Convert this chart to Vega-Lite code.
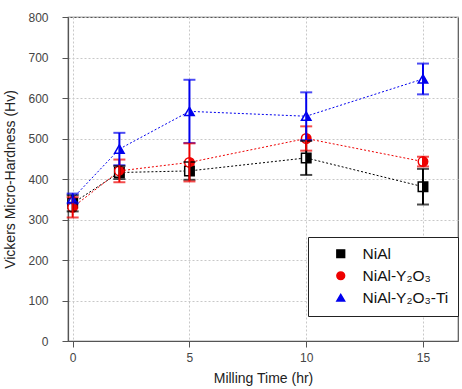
{
  "$schema": "https://vega.github.io/schema/vega-lite/v6.json",
  "width": 390,
  "height": 324,
  "autosize": "none",
  "padding": {"left": 68, "top": 17, "right": 4, "bottom": 48},
  "background": "white",
  "config": {
    "font": "Liberation Sans",
    "view": {"stroke": "#555", "strokeWidth": 1.2},
    "axis": {
      "domainColor": "#555",
      "domainWidth": 1.2,
      "tickColor": "#555",
      "tickSize": 6,
      "labelColor": "#444",
      "labelFontSize": 12,
      "titleColor": "#222",
      "titleFontSize": 14,
      "titleFontWeight": "normal",
      "gridColor": "#c8c8c8",
      "gridDash": [2, 2],
      "gridWidth": 1
    },
    "legend": {
      "orient": "none",
      "legendX": 240,
      "legendY": 220,
      "fillColor": "white",
      "strokeColor": "#222",
      "padding": 9,
      "labelFontSize": 15.5,
      "labelColor": "#111",
      "symbolSize": 60,
      "symbolStrokeWidth": 1.5,
      "symbolOffset": 16,
      "rowPadding": 5,
      "labelOffset": 14
    }
  },
  "data": {
    "values": [
      {"series": "NiAl", "time": 0, "hv": 340, "err": 20},
      {"series": "NiAl", "time": 2, "hv": 416, "err": 16},
      {"series": "NiAl", "time": 5, "hv": 420, "err": 22},
      {"series": "NiAl", "time": 10, "hv": 452, "err": 42},
      {"series": "NiAl", "time": 15, "hv": 381, "err": 44},
      {"series": "NiAl-Y₂O₃", "time": 0, "hv": 330, "err": 25},
      {"series": "NiAl-Y₂O₃", "time": 2, "hv": 420, "err": 28},
      {"series": "NiAl-Y₂O₃", "time": 5, "hv": 441, "err": 47},
      {"series": "NiAl-Y₂O₃", "time": 10, "hv": 500, "err": 30},
      {"series": "NiAl-Y₂O₃", "time": 15, "hv": 443, "err": 12},
      {"series": "NiAl-Y₂O₃-Ti", "time": 0, "hv": 352, "err": 12},
      {"series": "NiAl-Y₂O₃-Ti", "time": 2, "hv": 474, "err": 40},
      {"series": "NiAl-Y₂O₃-Ti", "time": 5, "hv": 567, "err": 78},
      {"series": "NiAl-Y₂O₃-Ti", "time": 10, "hv": 555, "err": 59},
      {"series": "NiAl-Y₂O₃-Ti", "time": 15, "hv": 647, "err": 38}
    ]
  },
  "encoding": {
    "x": {
      "field": "time",
      "type": "quantitative",
      "scale": {"domain": [-0.2, 16.5], "nice": false, "zero": false},
      "axis": {
        "title": "Milling Time (hr)",
        "values": [0, 5, 10, 15],
        "labelPadding": 5,
        "titlePadding": 8
      }
    },
    "y": {
      "field": "hv",
      "type": "quantitative",
      "scale": {"domain": [0, 800], "nice": false},
      "axis": {
        "title": "Vickers Micro-Hardness (Hv)",
        "values": [0, 100, 200, 300, 400, 500, 600, 700, 800],
        "labelPadding": 14,
        "titlePadding": 10
      }
    },
    "color": {
      "field": "series",
      "type": "nominal",
      "title": null,
      "scale": {"domain": ["NiAl", "NiAl-Y₂O₃", "NiAl-Y₂O₃-Ti"], "range": ["#000000", "#ee0000", "#0000ee"]}
    }
  },
  "layer": [
    {
      "mark": {"type": "line", "strokeWidth": 1, "strokeDash": [2, 2]}
    },
    {
      "mark": {"type": "point", "filled": false, "fill": "white", "size": 90, "strokeWidth": 1.5, "opacity": 1},
      "encoding": {
        "shape": {
          "field": "series",
          "type": "nominal",
          "title": null,
          "scale": {"domain": ["NiAl", "NiAl-Y₂O₃", "NiAl-Y₂O₃-Ti"], "range": ["square", "circle", "triangle-up"]}
        }
      }
    },
    {
      "transform": [{"filter": {"field": "series", "equal": "NiAl"}}],
      "mark": {"type": "point", "filled": true, "size": 90, "opacity": 1, "shape": "M0,-1H1V1H0Z"}
    },
    {
      "transform": [{"filter": {"field": "series", "equal": "NiAl-Y₂O₃"}}],
      "mark": {"type": "point", "filled": true, "size": 90, "opacity": 1, "shape": "M0,-1A1,1,0,0,1,0,1Z"}
    },
    {
      "transform": [{"filter": {"field": "series", "equal": "NiAl-Y₂O₃-Ti"}}],
      "mark": {"type": "point", "filled": true, "size": 90, "opacity": 1, "shape": "M0,-0.866L1,0.866L0,0.866Z"}
    },
    {
      "mark": {"type": "errorbar", "ticks": {"size": 12, "thickness": 2}, "thickness": 2},
      "encoding": {
        "yError": {"field": "err"}
      }
    }
  ]
}
